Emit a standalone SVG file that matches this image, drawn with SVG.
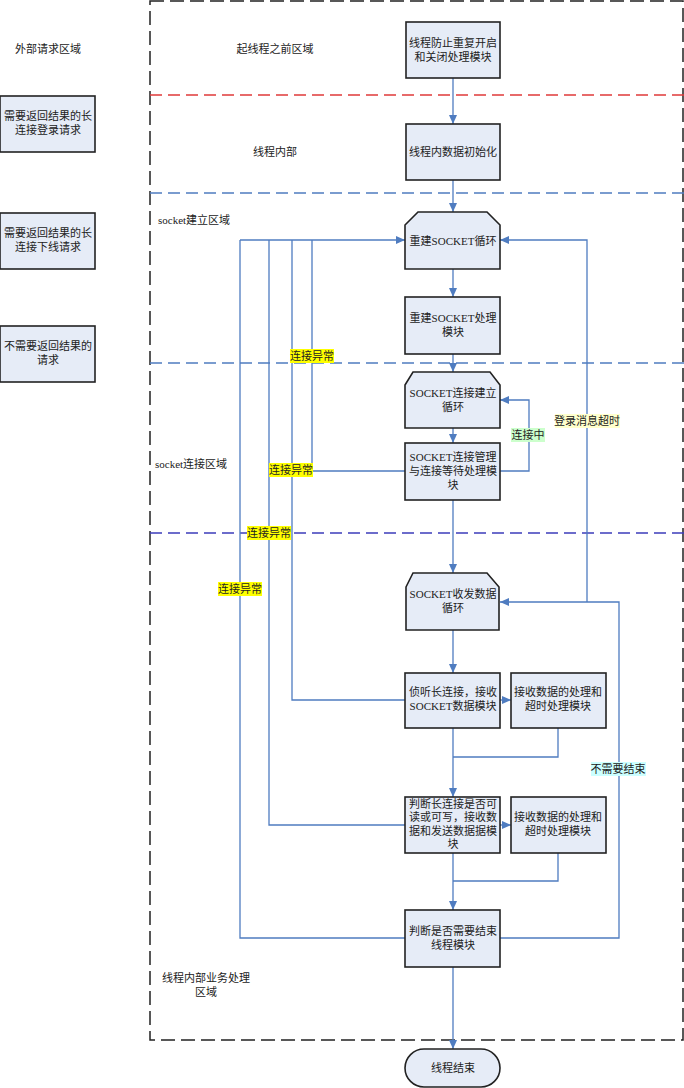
<svg xmlns="http://www.w3.org/2000/svg" width="684" height="1088" viewBox="0 0 684 1088">
<style>
.t{font-family:"Liberation Serif","Noto Sans CJK SC",serif;font-size:11px;fill:#222;text-anchor:middle}
.tl{font-family:"Liberation Serif","Noto Sans CJK SC",serif;font-size:11px;fill:#222}
.n{fill:#e6ecf7;stroke:#222;stroke-width:1.6}
.c{fill:none;stroke:#4f7cc0;stroke-width:1.3}
.ca{fill:none;stroke:#4f7cc0;stroke-width:1.3;marker-end:url(#ah)}
</style>
<defs>
<marker id="ah" markerWidth="9" markerHeight="8" refX="9" refY="4" orient="auto" markerUnits="userSpaceOnUse">
<path d="M0,0 L9,4 L0,8 Z" fill="#4f7cc0"/>
</marker>
</defs>
<rect width="684" height="1088" fill="#fff"/>
<g id="regions">
<rect x="150" y="1" width="533" height="1039" fill="none" stroke="#222" stroke-width="1.5" stroke-dasharray="14 6"/>
<line x1="150" y1="95" x2="684" y2="95" stroke="#e03a3a" stroke-width="1.3" stroke-dasharray="12 6"/>
<line x1="150" y1="193" x2="684" y2="193" stroke="#4f7cc0" stroke-width="1.3" stroke-dasharray="12 6"/>
<line x1="150" y1="363" x2="684" y2="363" stroke="#4f7cc0" stroke-width="1.3" stroke-dasharray="12 6"/>
<line x1="150" y1="533" x2="684" y2="533" stroke="#3d3dbb" stroke-width="1.3" stroke-dasharray="12 6"/>
<text class="t" x="48" y="53">外部请求区域</text>
<text class="t" x="275" y="53">起线程之前区域</text>
<text class="t" x="275" y="156">线程内部</text>
<text class="tl" x="158" y="224">socket建立区域</text>
<text class="tl" x="155" y="468">socket连接区域</text>
<text class="t" x="206" y="982">线程内部业务处理</text>
<text class="t" x="206" y="996">区域</text>
</g>
<g id="connectors">
<line class="ca" x1="453" y1="78" x2="453" y2="124"/>
<line class="ca" x1="453" y1="180" x2="453" y2="212"/>
<line class="ca" x1="453" y1="269" x2="453" y2="297"/>
<line class="ca" x1="453" y1="354" x2="453" y2="372"/>
<line class="ca" x1="453" y1="428" x2="453" y2="443"/>
<line class="ca" x1="453" y1="500" x2="453" y2="573"/>
<line class="ca" x1="453" y1="630" x2="453" y2="673"/>
<line class="ca" x1="453" y1="728" x2="453" y2="797"/>
<line class="ca" x1="453" y1="853" x2="453" y2="910"/>
<line class="ca" x1="453" y1="967" x2="453" y2="1049"/>
<line class="ca" x1="500" y1="700" x2="511" y2="700"/>
<line class="ca" x1="500" y1="825" x2="511" y2="825"/>
<polyline class="c" points="558,728 558,757 453,757"/>
<polyline class="c" points="558,853 558,881 453,881"/>
<polyline class="ca" points="500,471 529,471 529,400 500,400"/>
<polyline class="ca" points="500,938 619,938 619,602 500,602"/>
<polyline class="ca" points="587,602 587,240 500,240"/>
<polyline class="c" points="405,471 312,471 312,240"/>
<polyline class="c" points="405,700 292,700 292,240"/>
<polyline class="c" points="405,825 269,825 269,240"/>
<polyline class="c" points="405,938 240,938 240,240"/>
<line class="ca" x1="240" y1="240" x2="405" y2="240"/>
<rect x="290" y="349" width="44" height="14" fill="#ffff00"/>
<text class="t" x="312" y="360">连接异常</text>
<rect x="269" y="463" width="44" height="14" fill="#ffff00"/>
<text class="t" x="291" y="474">连接异常</text>
<rect x="247" y="526" width="44" height="14" fill="#ffff00"/>
<text class="t" x="269" y="537">连接异常</text>
<rect x="218" y="582" width="44" height="14" fill="#ffff00"/>
<text class="t" x="240" y="593">连接异常</text>
<rect x="511" y="428" width="34" height="14" fill="#ccffcc"/>
<text class="t" x="528" y="439">连接中</text>
<rect x="555" y="414" width="65" height="14" fill="#ffffcc"/>
<text class="t" x="587" y="425">登录消息超时</text>
<rect x="591" y="762" width="55" height="14" fill="#ccffff"/>
<text class="t" x="618" y="773">不需要结束</text>
</g>
<g id="n_ext1"><rect class="n" x="0" y="96" width="95" height="56"/><text class="t" x="48" y="120">需要返回结果的长</text><text class="t" x="48" y="134">连接登录请求</text></g>
<g id="n_ext2"><rect class="n" x="0" y="213" width="95" height="56"/><text class="t" x="48" y="237">需要返回结果的长</text><text class="t" x="48" y="251">连接下线请求</text></g>
<g id="n_ext3"><rect class="n" x="0" y="326" width="95" height="56"/><text class="t" x="48" y="350">不需要返回结果的</text><text class="t" x="48" y="364">请求</text></g>
<g id="n1"><rect class="n" x="406" y="22" width="94" height="56"/><text class="t" x="453" y="47">线程防止重复开启</text><text class="t" x="453" y="61">和关闭处理模块</text></g>
<g id="n2"><rect class="n" x="406" y="124" width="94" height="56"/><text class="t" x="453" y="156">线程内数据初始化</text></g>
<g id="n3"><path class="n" d="M405,225 L418,212 L487,212 L500,225 L500,269 L405,269 Z"/><text class="t" x="453" y="245">重建SOCKET循环</text></g>
<g id="n4"><rect class="n" x="405" y="297" width="95" height="57"/><text class="t" x="453" y="322">重建SOCKET处理</text><text class="t" x="453" y="336">模块</text></g>
<g id="n5"><path class="n" d="M405,385 L413,372 L490,372 L500,385 L500,428 L405,428 Z"/><text class="t" x="453" y="397">SOCKET连接建立</text><text class="t" x="453" y="411">循环</text></g>
<g id="n6"><rect class="n" x="405" y="443" width="95" height="57"/><text class="t" x="453" y="461">SOCKET连接管理</text><text class="t" x="453" y="475">与连接等待处理模</text><text class="t" x="453" y="489">块</text></g>
<g id="n7"><path class="n" d="M406,587 L413,573 L487,573 L499,587 L499,630 L406,630 Z"/><text class="t" x="453" y="598">SOCKET收发数据</text><text class="t" x="453" y="612">循环</text></g>
<g id="n8"><rect class="n" x="405" y="673" width="95" height="55"/><text class="t" x="453" y="696">侦听长连接，接收</text><text class="t" x="453" y="710">SOCKET数据模块</text></g>
<g id="n9"><rect class="n" x="511" y="673" width="95" height="55"/><text class="t" x="558" y="696">接收数据的处理和</text><text class="t" x="558" y="710">超时处理模块</text></g>
<g id="n10"><rect class="n" x="405" y="797" width="95" height="56"/><text class="t" x="453" y="808">判断长连接是否可</text><text class="t" x="453" y="821">读或可写，接收数</text><text class="t" x="453" y="835">据和发送数据据模</text><text class="t" x="453" y="848">块</text></g>
<g id="n11"><rect class="n" x="511" y="797" width="95" height="56"/><text class="t" x="558" y="821">接收数据的处理和</text><text class="t" x="558" y="835">超时处理模块</text></g>
<g id="n12"><rect class="n" x="405" y="910" width="95" height="57"/><text class="t" x="453" y="935">判断是否需要结束</text><text class="t" x="453" y="949">线程模块</text></g>
<g id="n13"><rect class="n" x="405" y="1049" width="95" height="38" rx="19" ry="19"/><text class="t" x="453" y="1072">线程结束</text></g>
</svg>
